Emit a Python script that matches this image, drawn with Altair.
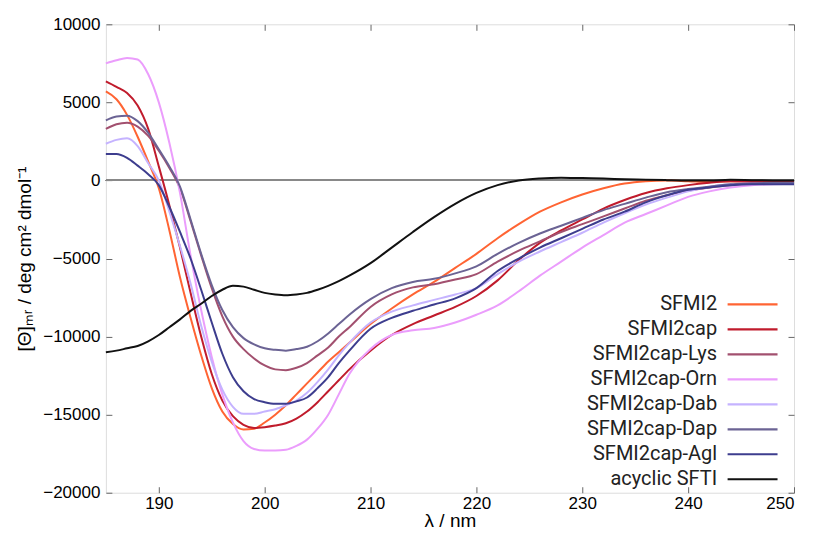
import altair as alt
import pandas as pd

wavelength = list(range(185, 209)) + list(range(210, 251, 2))

series_names = ["SFMI2", "SFMI2cap", "SFMI2cap-Lys", "SFMI2cap-Orn",
                "SFMI2cap-Dab", "SFMI2cap-Dap", "SFMI2cap-Agl", "acyclic SFTI"]
series_colors = ["#ff6433", "#c01b2c", "#a2506f", "#eb9dfc",
                 "#c5b3ff", "#6b6394", "#3d3d8e", "#111111"]

sfmi2 = [5700, 5200, 4200, 2800, 1200, -500, -3200, -6200, -8800, -11200, -13300, -14800,
         -15600, -15950, -15900, -15500, -15000, -14400, -13700, -13000, -12300, -11600, -11000, -10400,
         -9200, -8200, -7300, -6500, -5600, -4700, -3700, -2800, -2000, -1400, -900, -500,
         -200, -50, 0, -50, -100, -50, -50, -100, -100]
sfmi2cap = [6350, 6000, 5600, 4800, 3300, 900, -1600, -4300, -7200, -10000, -12400, -14100,
            -15100, -15650, -15850, -15800, -15700, -15550, -15250, -14800, -14200, -13500, -12800, -12100,
            -10900, -9900, -9200, -8650, -8100, -7400, -6400, -5100, -4000, -3200, -2500, -1800,
            -1250, -800, -500, -300, -150, -50, -100, -100, -100]
lys = [3300, 3600, 3700, 3450, 2850, 1900, 800, -500, -2600, -4800, -6900, -8700,
       -10000, -10800, -11400, -11850, -12100, -12150, -12000, -11700, -11200, -10700, -10000, -9400,
       -8100, -7300, -6850, -6650, -6350, -6000, -5200, -4500, -3900, -3300, -2800, -2300,
       -1800, -1300, -950, -650, -450, -300, -250, -200, -200]
orn = [7500, 7700, 7850, 7750, 6800, 5000, 2400, -800, -4800, -8300, -11300, -13700,
       -15500, -16700, -17200, -17300, -17300, -17250, -17000, -16600, -15900, -15000, -13700, -12400,
       -10800, -9900, -9600, -9450, -9100, -8600, -8000, -7100, -6100, -5200, -4300, -3500,
       -2700, -2150, -1600, -1050, -700, -450, -300, -250, -200]
dab = [2350, 2600, 2700, 2200, 1100, 0, -2000, -4200, -6600, -9300, -11600, -13400,
       -14500, -14950, -14950, -14800, -14650, -14400, -14100, -13600, -12900, -12100, -11200, -10400,
       -9100, -8400, -8000, -7650, -7300, -6900, -6000, -5200, -4550, -3950, -3350, -2700,
       -2100, -1550, -1100, -700, -400, -250, -200, -200, -200]
dap = [3850, 4100, 4150, 3800, 3050, 2000, 900, -400, -2500, -4700, -6700, -8300,
       -9400, -10100, -10500, -10750, -10850, -10900, -10800, -10650, -10300, -9800, -9200, -8600,
       -7600, -6900, -6500, -6300, -5950, -5500, -4700, -4000, -3400, -2900, -2400, -1900,
       -1500, -1100, -750, -550, -400, -250, -200, -150, -150]
agl = [1700, 1700, 1450, 950, 400, -300, -1700, -3300, -5000, -7000, -9100, -11100,
       -12600, -13500, -14000, -14200, -14300, -14300, -14150, -13900, -13300, -12600, -11700, -10900,
       -9500, -8800, -8350, -7950, -7550, -6900, -5800, -5000, -4300, -3700, -3100, -2500,
       -2000, -1400, -950, -600, -450, -300, -250, -250, -250]
sfti = [-11000, -10900, -10750, -10600, -10300, -9900, -9400, -8900, -8350, -7900, -7400, -7000,
        -6750, -6800, -7000, -7200, -7300, -7350, -7300, -7200, -7000, -6750, -6450, -6100,
        -5300, -4300, -3300, -2350, -1500, -800, -300, 0, 130, 180, 150, 120,
        80, 50, 20, 0, 0, 40, 20, 0, 0]

all_series = [sfmi2, sfmi2cap, lys, orn, dab, dap, agl, sfti]

x_ticks = [190, 200, 210, 220, 230, 240, 250]
y_ticks = [-20000, -15000, -10000, -5000, 0, 5000, 10000]

rows = []
for name, vals in zip(series_names, all_series):
    for w, v in zip(wavelength, vals):
        rows.append({"lambda": w, "theta": v, "series": name})
df = pd.DataFrame(rows)

W, H = 689, 469
FONT = "Roboto"

xscale = alt.Scale(domain=[185, 250], nice=False, zero=False)
yscale = alt.Scale(domain=[-20000, 10000], nice=False, zero=False)
inner_tick = {"expr": "-6"}

color = alt.Color(
    "series:N",
    scale=alt.Scale(domain=series_names, range=series_colors),
    sort=series_names,
    legend=alt.Legend(
        orient="none", legendX=621, legendY=269, title=None,
        symbolType="M-1,0H4", symbolSize=400, symbolStrokeWidth=2.2,
        symbolOpacity=1,
        labelAlign="right", labelOffset={"expr": "-32"}, labelFontSize=20,
        labelFont=FONT, labelColor="#222222", labelLimit=0,
        rowPadding=3, padding=0,
    ),
)

zero_rule = alt.Chart(df).mark_rule(color="#8a8a8a", strokeWidth=1).encode(
    y=alt.YDatum(0, scale=yscale, axis=None)
)

lines = alt.Chart(df).mark_line(strokeWidth=2, interpolate="monotone").encode(
    x=alt.X("lambda:Q", scale=xscale,
            axis=alt.Axis(orient="bottom", values=x_ticks, title="λ / nm", tickSize=inner_tick,
                          tickColor="#666666", labelPadding=9, labelFontSize=17,
                          titleFontSize=19, titleFontWeight="normal", titlePadding=0,
                          domain=False, grid=False)),
    y=alt.Y("theta:Q", scale=yscale,
            axis=alt.Axis(orient="left", values=y_ticks, title="[Θ]ₘᵣ / deg cm² dmol⁻¹",
                          tickSize=inner_tick, format="d",
                          tickColor="#666666", labelPadding=12, labelFontSize=17,
                          titleFontSize=19, titleFontWeight="normal", titlePadding=8,
                          domain=False, grid=False)),
    color=color,
    order=alt.Order("lambda:Q"),
)

ghost = alt.Chart(df).mark_line(opacity=0).encode(
    x=alt.X("lambda:Q", scale=xscale,
            axis=alt.Axis(orient="top", values=x_ticks, title=None, labels=False,
                          tickSize=inner_tick, tickColor="#666666", domain=False, grid=False)),
    y=alt.Y("theta:Q", scale=yscale,
            axis=alt.Axis(orient="right", values=y_ticks, title=None, labels=False,
                          tickSize=inner_tick, tickColor="#666666", domain=False, grid=False)),
    detail="series:N",
)

chart = alt.layer(zero_rule, lines, ghost).resolve_axis(
    x="independent", y="independent"
).properties(
    width=W, height=H,
    autosize=alt.AutoSizeParams(type="none"),
    padding={"left": 98, "top": 16, "right": 12, "bottom": 42},
).configure_view(
    stroke="#666666", strokeWidth=1.5
).configure_axis(
    labelFont=FONT, titleFont=FONT, labelColor="#222222", titleColor="#222222",
    titleFontWeight="normal",
).configure(background="white")

chart.save("out.html", embed_options={"renderer": "svg", "actions": False})
